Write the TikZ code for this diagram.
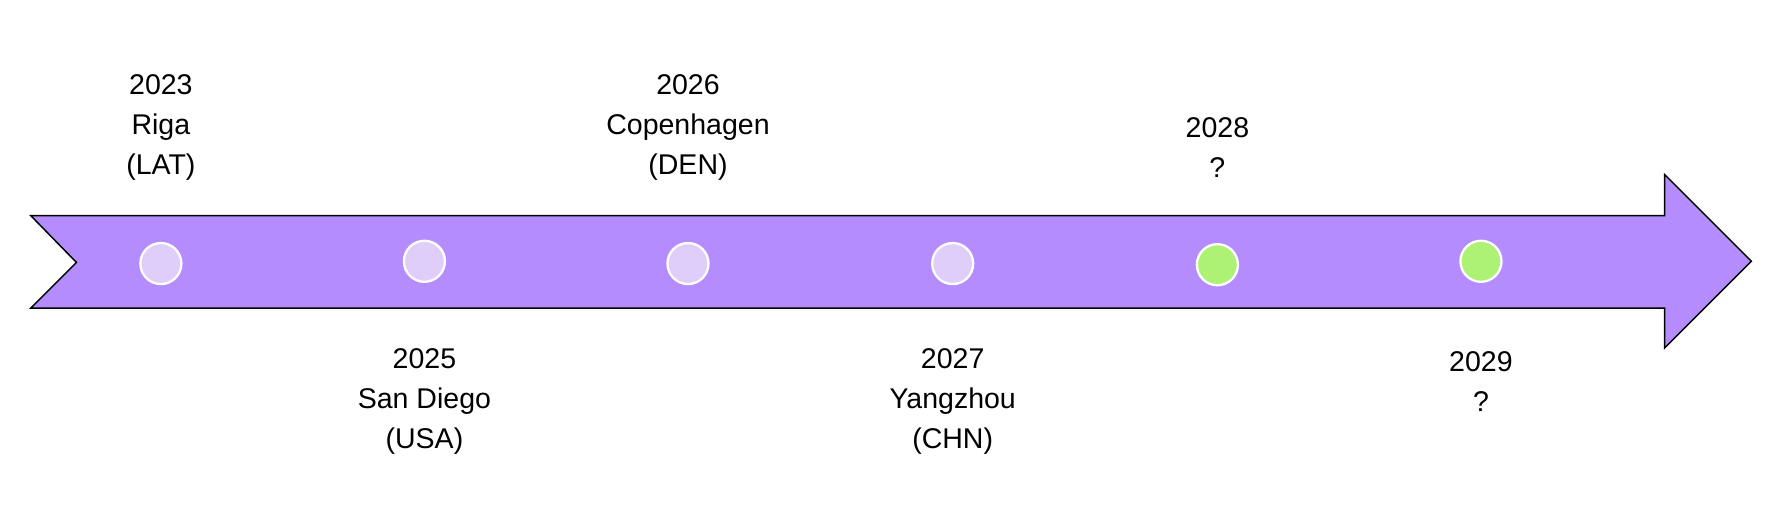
\documentclass[tikz,border=0pt]{standalone}
\usepackage{fontspec}
\setmainfont{Liberation Sans}
\begin{document}
\begin{tikzpicture}[x=1pt,y=-1pt,
  dot/.style={circle,draw=white,line width=2pt,minimum size=36pt,inner sep=0pt},
  past/.style={dot,fill=violet!25!white,fill={rgb,255:red,224;green,206;blue,250}},
  future/.style={dot,fill={rgb,255:red,173;green,242;blue,116}},
  lbl/.style={align=center,font=\fontsize{25}{35}\selectfont,text=black}]
\useasboundingbox (0,0) rectangle (1568,460);
\draw[fill={rgb,255:red,180;green,140;blue,253},line width=1.3pt,line join=miter]
  (27,189) -- (1459,189) -- (1459,153) -- (1535,229) -- (1459,305) -- (1459,270)
  -- (27,270) -- (67,230) -- cycle;
\node[past] (d1) at (141,231) {};
\node[past] (d2) at (372,229) {};
\node[past] (d3) at (603,231) {};
\node[past] (d4) at (835,231) {};
\node[future] (d5) at (1067,232) {};
\node[future] (d6) at (1298,229) {};
\node[lbl] (t1) at (141,112) {2023\\Riga\\(LAT)};
\node[lbl] (t3) at (603,112) {2026\\Copenhagen\\(DEN)};
\node[lbl] (t5) at (1067,129) {2028\\?};
\node[lbl] (t2) at (372,352) {2025\\San Diego\\(USA)};
\node[lbl] (t4) at (835,352) {2027\\Yangzhou\\(CHN)};
\node[lbl] (t6) at (1298,334) {2029\\?};
\end{tikzpicture}
\end{document}
